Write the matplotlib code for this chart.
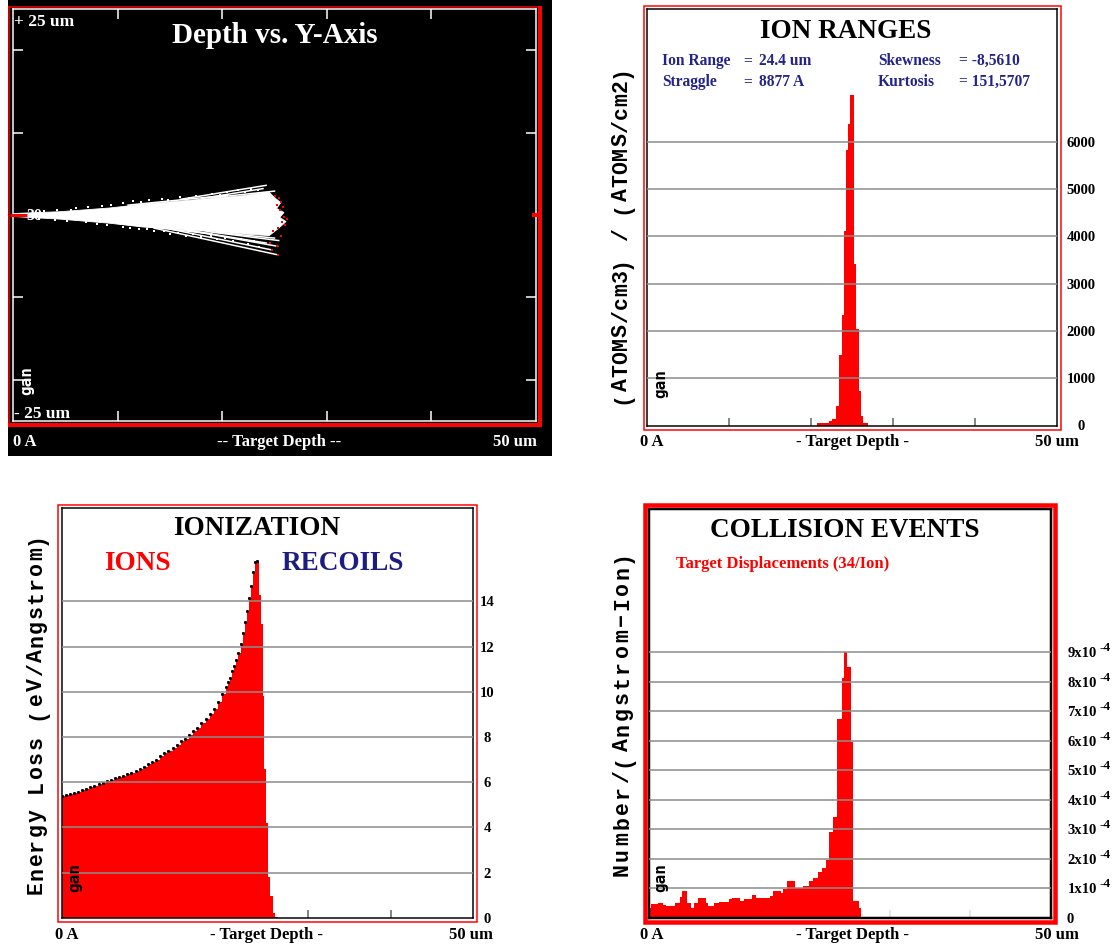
import numpy as np
import matplotlib
matplotlib.use('Agg')
import matplotlib.pyplot as plt
from matplotlib.patches import Rectangle
from matplotlib.lines import Line2D

# ---------------- data ----------------
# Depth vs. Y-Axis : dense part of the ion tracks (depth um, lateral um)
core_upper = [(0.0, 0.18), (4.5, 0.4), (9.25, 0.85), (12.4, 1.3), (15.6, 1.65),
              (18.8, 2.0), (22.0, 2.35), (23.9, 2.7), (24.5, 2.75)]
core_tip = [(25.0, 2.1), (25.6, 1.5), (25.2, 0.8), (25.9, 0.3), (25.5, -0.3),
            (26.1, -0.8), (25.4, -1.6)]
core_lower = [(24.5, -2.5), (22.0, -2.3), (18.8, -2.0), (15.6, -1.75), (12.4, -1.45),
              (9.25, -1.0), (4.5, -0.5), (0.0, -0.18)]
# single straggling tracks (start depth, start y, end depth, end y)
stray_tracks = [(13.5, -1.6, 25.2, -4.8), (15.0, -1.7, 24.6, -4.2), (16.5, -1.8, 25.3, -3.8),
                (17.0, -1.9, 24.2, -3.4), (18.5, -2.0, 25.4, -3.1), (19.5, -2.1, 25.0, -2.8),
                (16.0, 1.9, 24.2, 3.6), (18.0, 2.0, 23.9, 3.2), (19.0, 2.1, 25.0, 2.9),
                (11.0, 1.2, 20.5, 2.4), (10.0, -1.0, 19.0, -2.3)]
stray_dots = [(3.0, 0.45), (4.2, 0.55), (5.5, 0.65), (6.0, 0.85), (7.2, 0.95), (8.5, 1.15),
              (9.4, 1.2), (10.5, 1.45), (11.5, 1.65), (12.2, 1.55), (13.0, 1.8), (14.2, 1.95),
              (14.8, 1.85), (16.0, 2.15), (16.8, 2.05), (17.5, 2.35), (19.0, 2.55), (19.8, 2.4),
              (20.5, 2.75), (21.5, 3.0), (22.2, 2.8), (22.8, 3.1), (23.4, 3.0),
              (2.5, -0.45), (4.0, -0.6), (5.2, -0.75), (7.0, -0.9), (8.0, -1.1), (9.0, -1.25),
              (10.5, -1.45), (11.2, -1.6), (12.0, -1.75), (12.8, -1.7), (13.5, -2.0),
              (14.4, -1.95), (15.0, -2.3), (15.8, -2.15), (16.5, -2.5), (17.2, -2.35),
              (18.0, -2.7), (18.9, -2.5), (19.5, -2.95), (20.3, -2.75), (21.0, -3.15),
              (21.8, -2.95), (22.5, -3.5), (23.0, -3.1), (23.5, -3.9)]
stop_points = [(25.0, 2.3), (25.4, 2.1), (25.6, 1.6), (25.2, 1.2), (25.8, 1.0), (25.5, 0.6),
               (25.9, -0.2), (26.2, -0.5), (25.7, -0.9), (26.0, -1.2), (25.3, -1.6),
               (24.9, -2.0), (25.6, -2.6), (24.6, -3.4), (25.2, -3.8), (24.8, -4.2), (25.3, -4.8)]

# Ion ranges histogram (um, atoms/cm3 per atoms/cm2)
range_edges = [20.7, 22.25, 22.6, 23.0, 23.4, 23.75, 24.0, 24.3, 24.55, 24.8, 25.2,
               25.5, 25.85, 26.15, 26.4, 26.95]
range_counts = [55, 90, 140, 420, 1490, 2330, 4110, 5820, 6380, 6980, 3410, 2030, 720, 200, 55]
range_ticks = [0, 1000, 2000, 3000, 4000, 5000, 6000]

# Ionization energy loss by ions (eV/Angstrom)
ion_edges = np.r_[np.arange(0, 20.0, 0.5), np.arange(20.0, 23.76, 0.25),
                  [23.95, 24.2, 24.45, 24.65, 24.9, 25.1, 25.35, 25.65, 26.0, 26.3]]
ion_loss = [5.37, 5.42, 5.47, 5.52, 5.58, 5.64, 5.70, 5.77, 5.85, 5.93,
            5.98, 6.05, 6.11, 6.16, 6.22, 6.27, 6.34, 6.42, 6.50, 6.58,
            6.67, 6.78, 6.88, 7.00, 7.14, 7.28, 7.38, 7.52, 7.65, 7.80,
            7.92, 8.08, 8.24, 8.41, 8.60, 8.78, 9.00, 9.24, 9.53, 9.92,
            10.2, 10.45, 10.6, 10.92, 11.15, 11.42, 11.72, 12.12, 12.58, 13.1,
            13.56, 14.13, 14.68, 15.3, 15.75,
            15.8, 14.3, 13.0, 9.8, 6.6, 4.2, 1.8, 0.95, 0.2, 0.05]
ion_ticks = [0, 2, 4, 6, 8, 10, 12, 14]

# Target displacements (units of 1e-4 per Angstrom-Ion)
disp_edges = [0.0, 0.25, 1.06, 1.76, 2.17, 3.28, 3.81, 4.14, 4.75, 5.24, 5.65, 6.06, 7.09,
              7.37, 8.11, 8.72, 9.95, 10.36, 11.38, 11.79, 12.29, 12.82, 13.35, 15.07,
              15.48, 16.38, 16.71, 17.2, 18.14, 19.16, 19.98, 20.39, 21.0, 21.54, 22.03,
              22.36, 22.93, 23.38, 24.0, 24.24, 24.65, 25.18, 25.43, 26.1, 26.42]
disp_values = [0.32, 0.45, 0.51, 0.43, 0.41, 0.51, 0.71, 0.92, 0.49, 0.32, 0.49, 0.66,
               0.49, 0.41, 0.49, 0.54, 0.62, 0.66, 0.58, 0.64, 0.62, 0.78, 0.67, 0.75,
               0.92, 0.83, 0.96, 1.26, 1.00, 1.09, 1.26, 1.35, 1.55, 1.69, 1.96, 2.92,
               3.40, 6.73, 8.14, 9.0, 8.5, 5.97, 0.57, 0.32]
disp_ticks = [0, 1, 2, 3, 4, 5, 6, 7, 8, 9]

# ---------------- layout helpers (pixel coordinates, origin top-left) ----------------
W, H = 1117, 944
SERIF = 'Liberation Serif'
MONO = 'Liberation Mono'
GRID = '#8c8c8c'
NAVY = '#23238a'
PX = 0.72  # points per pixel at 100 dpi

fig = plt.figure(figsize=(W / 100, H / 100), dpi=100)
fig.patch.set_facecolor('white')


def panel_axes(x0, y0, x1, y1):
    return fig.add_axes([x0 / W, 1 - y1 / H, (x1 - x0) / W, (y1 - y0) / H])


def rect(x0, y0, x1, y1, color, lw, fill=False, z=1):
    fig.add_artist(Rectangle((x0 / W, 1 - y1 / H), (x1 - x0) / W, (y1 - y0) / H,
                             transform=fig.transFigure, fill=fill, ec=color if not fill else 'none',
                             fc=color if fill else 'none', lw=lw * PX, zorder=z))


def seg(x0, y0, x1, y1, color, lw, z=5):
    fig.add_artist(Line2D([x0 / W, x1 / W], [1 - y0 / H, 1 - y1 / H], transform=fig.transFigure,
                          color=color, lw=lw * PX, solid_capstyle='butt', zorder=z))


def txt(x, y, s, size, color='black', ha='left', va='baseline', family=SERIF, weight='bold', **kw):
    return fig.text(x / W, 1 - y / H, s, fontsize=size, color=color, ha=ha, va=va,
                    family=family, weight=weight, **kw)


def column_label(s, x, y_first, y_last, size):
    # vertical axis title, one glyph at a time with an even pitch
    n = len(s)
    step = (y_first - y_last) / (n - 1)
    for i, ch in enumerate(s):
        if ch == ' ':
            continue
        txt(x, y_first - i * step, ch, size, family=MONO, weight='bold', ha='center',
            va='baseline', rotation=90, rotation_mode='anchor')


def style_plot(ax, spine_lw, ymax):
    ax.set_xlim(0, 50)
    ax.set_ylim(0, ymax)
    for s in ax.spines.values():
        s.set_color('black')
        s.set_linewidth(spine_lw * PX)
    ax.set_xticks([10, 20, 30, 40])
    ax.set_yticks([])
    ax.tick_params(axis='x', direction='in', length=6, width=1.2, color='#707070',
                   labelbottom=False)


# ---------------- Depth vs. Y-Axis ----------------
rect(8, 0, 552, 456, 'black', 0, fill=True, z=0)
ax1 = panel_axes(13, 9, 536, 421)
ax1.set_facecolor('black')
ax1.set_xlim(0, 50)
ax1.set_ylim(-25, 25)
for s in ax1.spines.values():
    s.set_color('white')
    s.set_linewidth(1.5 * PX)
ax1.set_xticks([10, 20, 30, 40])
ax1.set_yticks([-20, -10, 10, 20])
ax1.tick_params(direction='in', length=7, width=1.1, color='white', top=True, right=True,
                labelbottom=False, labelleft=False)

outline = core_upper + core_tip + core_lower
ax1.fill([p[0] for p in outline], [p[1] for p in outline], color='white', lw=0.6, ec='white')
for d0, y0, d1, y1 in stray_tracks:
    ax1.plot([d0, d1], [y0, y1], color='white', lw=1.1)
ax1.scatter([p[0] for p in stray_dots], [p[1] for p in stray_dots], s=3.5, c='white',
            marker='s', lw=0)
ax1.scatter([p[0] for p in stop_points], [p[1] for p in stop_points], s=3, c='red',
            marker='s', lw=0, zorder=4)

seg(8.5, 6, 8.5, 427, 'red', 1.5)
seg(8, 6.5, 541, 6.5, 'red', 1.5)
seg(539.5, 6, 539.5, 427, 'red', 4)
seg(8, 425, 541, 425, 'red', 4)
seg(10, 215, 27, 215, 'red', 3, z=6)
seg(532, 215, 542, 215, 'red', 4, z=6)
txt(34, 216, '30', 11.5, color='white', ha='center', va='center', zorder=7)
txt(275, 43, 'Depth vs. Y-Axis', 21, color='white', ha='center')
txt(14, 26, '+ 25 um', 12.5, color='white')
txt(14, 418, '- 25 um', 12.5, color='white')
txt(27, 381, 'gan', 11.5, color='white', ha='center', va='center', family='DejaVu Sans Mono',
    rotation=90)
txt(13, 446, '0 A', 12, color='white')
txt(279, 446, '-- Target Depth --', 12, color='white', ha='center')
txt(537, 446, '50 um', 12, color='white', ha='right')

# ---------------- Ion ranges ----------------
ax2 = panel_axes(647, 9, 1057, 425.5)
ax2.set_facecolor('white')
r_top = 8805
ax2.stairs(range_counts, range_edges, fill=True, color='red', zorder=2)
for v in range_ticks[1:]:
    ax2.axhline(v, color=GRID, lw=1.1, zorder=3)
style_plot(ax2, 1.5, r_top)
rect(644, 6, 1061, 430, 'red', 1.5)
for v in range_ticks:
    y = 425.5 - v / r_top * 416.5
    txt(1081, y + 5, str(v), 10.5, ha='center')
txt(846, 38, 'ION RANGES', 19.5, ha='center')
txt(662, 65, 'Ion Range', 11.2, color=NAVY)
txt(743, 65, '=', 11.2, color=NAVY)
txt(759, 65, '24.4 um', 11.2, color=NAVY)
txt(662, 86, 'Straggle', 11.2, color=NAVY)
txt(743, 86, '=', 11.2, color=NAVY)
txt(759, 86, '8877 A', 11.2, color=NAVY)
txt(878, 65, 'Skewness', 11.2, color=NAVY)
txt(959, 65, '= -8,5610', 11.2, color=NAVY)
txt(878, 86, 'Kurtosis', 11.2, color=NAVY)
txt(959, 86, '= 151,5707', 11.2, color=NAVY)
column_label('(ATOMS/cm3) / (ATOMS/cm2)', 627, 398, 72, 15.5)
txt(661, 384, 'gan', 11.5, ha='center', va='center', family='DejaVu Sans Mono', rotation=90)
txt(640, 446, '0 A', 12)
txt(852, 446, '- Target Depth -', 12, ha='center')
txt(1079, 446, '50 um', 12, ha='right')

# ---------------- Ionization ----------------
ax3 = panel_axes(61.5, 508, 473, 917.7)
i_top = 18.13
ax3.stairs(ion_loss, ion_edges, fill=True, color='red', zorder=2)
ax3.plot(ion_edges[:56], ion_loss[:56], ls='none', marker='s', ms=1.1, color='black', zorder=2.5)
for v in ion_ticks[1:]:
    ax3.axhline(v, color=GRID, lw=1.1, zorder=3)
style_plot(ax3, 1.5, i_top)
rect(58, 505, 477, 922, 'red', 1.5)
for v in ion_ticks:
    y = 917.7 - v / i_top * 409.7
    txt(487, y + 5, str(v), 10.5, ha='center')
txt(257, 535, 'IONIZATION', 19.5, ha='center')
txt(137, 570, 'IONS', 19.5, color='red', ha='center')
txt(343, 570, 'RECOILS', 19.5, color='#1c1c82', ha='center')
column_label('Energy Loss (eV/Angstrom)', 42, 888, 539, 15.5)
txt(75, 878, 'gan', 11.5, ha='center', va='center', family='DejaVu Sans Mono', rotation=90)
txt(55, 939, '0 A', 12)
txt(266, 939, '- Target Depth -', 12, ha='center')
txt(493, 939, '50 um', 12, ha='right')

# ---------------- Collision events ----------------
ax4 = panel_axes(649, 508.5, 1050.5, 917.7)
d_top = 13.88
ax4.stairs(disp_values, disp_edges, fill=True, color='red', zorder=2)
for v in disp_ticks[1:]:
    ax4.axhline(v, color=GRID, lw=1.1, zorder=3)
style_plot(ax4, 2.5, d_top)
ax4.tick_params(axis='x', color='#e0e0e0', zorder=4)
rect(645, 505, 1054.5, 921.5, 'red', 4.5)
for v in disp_ticks:
    y = 917.7 - v / d_top * 409.2
    if v == 0:
        txt(1070, y + 5, '0', 10.5, ha='center')
    else:
        txt(1097, y + 5, f'{v}x10', 10.5, ha='right')
        txt(1100, y - 1, '-4', 9.5)
txt(845, 537, 'COLLISION EVENTS', 19.5, ha='center')
txt(676, 568, 'Target Displacements (34/Ion)', 12, color='red')
column_label('Number/(Angstrom\u2212Ion)', 628, 870, 557, 15.5)
txt(661, 878, 'gan', 11.5, ha='center', va='center', family='DejaVu Sans Mono', rotation=90)
txt(640, 939, '0 A', 12)
txt(852, 939, '- Target Depth -', 12, ha='center')
txt(1079, 939, '50 um', 12, ha='right')

fig.savefig('out.png', dpi=100, facecolor='white')
